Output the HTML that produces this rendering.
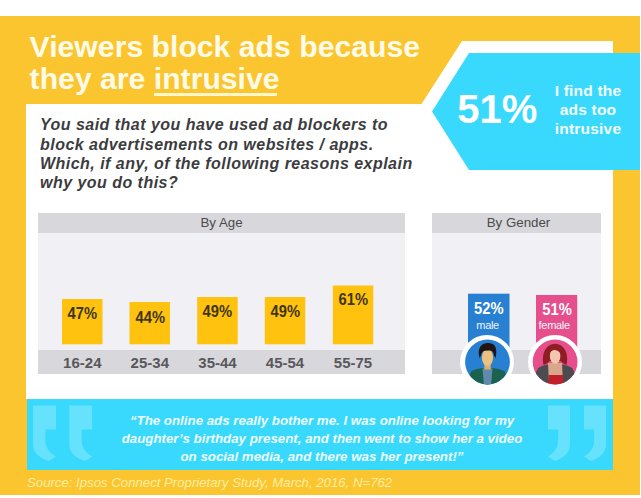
<!DOCTYPE html>
<html><head><meta charset="utf-8">
<style>
*{margin:0;padding:0;box-sizing:border-box}
html,body{width:641px;height:498px;overflow:hidden;background:#fff;font-family:"Liberation Sans",sans-serif}
.a{position:absolute;white-space:nowrap}
#bg{position:absolute;left:0;top:0}
.title{left:29.6px;top:31px;font-size:30.2px;line-height:32px;font-weight:bold;color:#fffbe6}
.title u{text-decoration:none}
.ul{position:absolute;left:154px;top:92.9px;width:123.3px;height:2.7px;background:#fff8cc}
.q{left:40px;top:115.3px;font-size:16px;line-height:19.33px;font-weight:bold;font-style:italic;letter-spacing:.47px;color:#3c3c3e}
.big{left:457.2px;top:0;font-size:40px;font-weight:bold;color:#fff}
.find{font-size:15.5px;line-height:18.9px;font-weight:bold;color:#f2fcff;text-align:center;width:80px;left:548px;letter-spacing:.2px}
.hdr{font-size:13.3px;color:#4a4a4c;text-align:center}
.pct{font-size:16px;line-height:18px;font-weight:bold;color:#3f3512;text-align:center;width:40.5px;transform:scaleX(.92)}
.lab{font-size:15px;font-weight:bold;color:#58575c;text-align:center;width:50px}
.gp{font-size:16px;line-height:18px;transform:scaleX(.92);font-weight:bold;color:#fff;text-align:center}
.gl{font-size:11px;line-height:13px;color:#eef6ff;text-align:center;letter-spacing:-.3px;width:60px}
.quote{left:0;width:641px;text-align:center;font-size:13.3px;line-height:18.3px;font-weight:bold;font-style:italic;color:#eefcff}
.src{left:27px;font-size:13.2px;font-style:italic;color:#fdeea0}
</style></head><body>
<svg id="bg" width="641" height="498" viewBox="0 0 641 498">
  <rect x="0" y="16" width="640" height="479" fill="#fbc530"/>
  <polygon points="26,104 421.5,104 462,41 613,41 613,399 26,399" fill="#fff"/>
  <polygon points="432,111.5 469,53 640,53 640,170 469,170" fill="#38d9fc"/>
  <!-- panels -->
  <rect x="38" y="213" width="367" height="161" fill="#f1f0f4"/>
  <rect x="38" y="213" width="367" height="20" fill="#d8d7db"/>
  <rect x="38" y="350" width="367" height="24" fill="#d8d7db"/>
  <rect x="432" y="213" width="169" height="161" fill="#f1f0f4"/>
  <rect x="432" y="213" width="169" height="20" fill="#d8d7db"/>
  <rect x="432" y="350" width="169" height="24" fill="#d8d7db"/>
  <!-- bars -->
  <g fill="#ffc20e">
    <rect x="62" y="299" width="40.5" height="45.3"/>
    <rect x="129.5" y="302" width="40.5" height="42.3"/>
    <rect x="197.2" y="297" width="40.5" height="47.3"/>
    <rect x="264.8" y="297" width="40.5" height="47.3"/>
    <rect x="332.8" y="285.5" width="40.5" height="58.8"/>
  </g>
  <!-- gender boxes -->
  <rect x="468" y="293.7" width="41.5" height="56" fill="#2780d2"/>
  <rect x="536" y="295" width="41.2" height="55" fill="#e74e8c"/>
  <!-- avatars -->
  <defs><clipPath id="cc"><circle cx="0" cy="0" r="22.4"/></clipPath></defs>
  <circle cx="487" cy="362" r="27" fill="#fff"/>
  <g transform="translate(487.5,362)">
    <circle r="22.4" fill="#2780d2"/>
    <g clip-path="url(#cc)">
      <path d="M-16,9 Q-11,6.5 -5,6 L5,6 Q11,6.5 17,9 L24,26 H-24 Z" fill="#1a624e"/>
      <path d="M-5,6.5 L5,6.5 L3.5,24 L-3.5,24 Z" fill="#5f8aab"/>
      <rect x="-3.2" y="0" width="6.4" height="7.5" fill="#dcae70"/>
      <ellipse cx="0" cy="-4.5" rx="5.6" ry="8.4" fill="#edc17f"/>
      <path d="M-7.8,-4 C-9.5,-9 -9,-15 -5,-17.5 C-2,-19.5 3,-19.5 6,-17.5 C9,-15 9.5,-10 8,-4 L6.4,-6.5 C6.2,-9.5 5,-11.2 2.5,-11.5 L-2.5,-11.2 C-5,-11 -6.1,-9 -6.5,-6.5 Z" fill="#211615"/>
    </g>
  </g>
  <circle cx="555" cy="362" r="27" fill="#fff"/>
  <g transform="translate(555.1,362)">
    <circle r="22.4" fill="#e74e8c"/>
    <g clip-path="url(#cc)">
      <path d="M-11.5,3 C-13.5,-6 -11,-17.5 0,-18.2 C11,-17.5 13.5,-6 11.5,3 Q7,1.5 5.5,-1 L-5.5,-1 Q-7,1.5 -11.5,3 Z" fill="#8f1d24"/>
      <path d="M-7,1 L7,1 L8.5,16 L-8.5,16 Z" fill="#d9a78b"/>
      <ellipse cx="0" cy="-6" rx="5.3" ry="7.8" fill="#f3c6ae"/>
      <path d="M-6,-8 C-6.5,-14 -2,-16.5 2,-16 C6,-15.5 7.5,-12 6.5,-7 C5,-10 2,-12.5 -1,-12 C-3.5,-11.5 -5,-10 -6,-8 Z" fill="#8f1d24"/>
      <path d="M-17,6 Q-11,2.5 -7,2.5 L-6,24 H-26 Z" fill="#4c4b50"/>
      <path d="M17,6 Q11,2.5 7,2.5 L8,24 H26 Z" fill="#4c4b50"/>
      <rect x="-6.5" y="13" width="14.5" height="12" fill="#c1202b"/>
    </g>
  </g>
  <!-- quote band -->
  <rect x="27" y="399" width="586" height="71" fill="#38d9fc"/>
  <g fill="#fff" fill-opacity=".24">
    <path transform="translate(56,405.6) scale(-1.04,1)" d="M0,0H22V39C22,47.5 15.5,52.5 7,55.5L0,51C7,47 10.3,42 10.3,32.5L10,24H0Z"/>
    <path transform="translate(92.2,405.6) scale(-1.04,1)" d="M0,0H22V39C22,47.5 15.5,52.5 7,55.5L0,51C7,47 10.3,42 10.3,32.5L10,24H0Z"/>
    <path transform="translate(548,405.6)" d="M0,0H22V39C22,47.5 15.5,52.5 7,55.5L0,51C7,47 10.3,42 10.3,32.5L10,24H0Z"/>
    <path transform="translate(584,405.6)" d="M0,0H22V39C22,47.5 15.5,52.5 7,55.5L0,51C7,47 10.3,42 10.3,32.5L10,24H0Z"/>
  </g>
</svg>

<div class="a title">Viewers block ads because<br>they are <u>intrusive</u></div>
<div class="ul"></div>
<div class="a q">You said that you have used ad blockers to<br>block advertisements on websites / apps.<br>Which, if any, of the following reasons explain<br>why you do this?</div>

<div class="a big" style="top:87.4px">51%</div>
<div class="a find" style="top:82px">I find the<br>ads too<br>intrusive</div>

<div class="a hdr" style="left:38px;width:367px;top:214px;line-height:18px">By Age</div>
<div class="a hdr" style="left:434px;width:169px;font-size:13.3px;top:214px;line-height:18px">By Gender</div>

<div class="a pct" style="left:62px;top:305px">47%</div>
<div class="a pct" style="left:129.5px;top:308.5px">44%</div>
<div class="a pct" style="left:197.2px;top:303px">49%</div>
<div class="a pct" style="left:264.8px;top:303px">49%</div>
<div class="a pct" style="left:332.8px;top:290.5px">61%</div>

<div class="a lab" style="left:57.3px;top:354px">16-24</div>
<div class="a lab" style="left:124.8px;top:354px">25-34</div>
<div class="a lab" style="left:192.5px;top:354px">35-44</div>
<div class="a lab" style="left:260px;top:354px">45-54</div>
<div class="a lab" style="left:328px;top:354px">55-75</div>

<div class="a gp" style="left:468px;width:41.5px;top:300px">52%</div>
<div class="a gl" style="left:457.6px;top:318.5px">male</div>
<div class="a gp" style="left:536px;width:42px;top:300.8px">51%</div>
<div class="a gl" style="left:524.2px;top:318.5px">female</div>

<div class="a quote" style="top:411.7px;left:1.5px">“The online ads really bother me. I was online looking for my<br>daughter’s birthday present, and then went to show her a video<br>on social media, and there was her present!”</div>
<div class="a src" style="top:475px">Source: Ipsos Connect Proprietary Study, March, 2016, N=762</div>
</body></html>
